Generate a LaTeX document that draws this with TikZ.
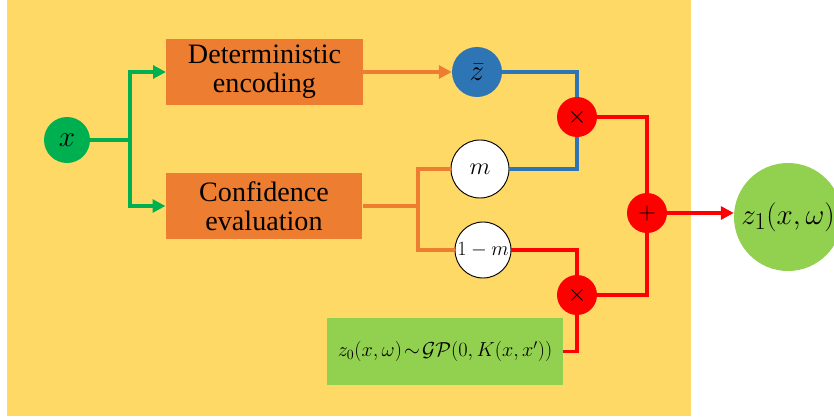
\documentclass[tikz,border=0pt]{standalone}
\usepackage{fontspec}
\setmainfont{Liberation Serif}
\usetikzlibrary{arrows.meta}

\definecolor{bgyellow}{HTML}{FFD966}
\definecolor{boxorange}{HTML}{ED7D31}
\definecolor{xgreen}{HTML}{00B050}
\definecolor{zblue}{HTML}{2E75B6}
\definecolor{opred}{HTML}{FF0000}
\definecolor{lgreen}{HTML}{92D050}

\tikzset{
  box/.style={fill=boxorange, minimum width=5.9cm, minimum height=1.98cm,
    inner sep=0pt, align=center, font=\fontsize{24}{25}\selectfont},
  op/.style={circle, fill=opred, minimum size=1.2cm, inner sep=0pt,
    font=\fontsize{20}{20}\selectfont},
  wire/.style={line width=3.4pt},
  tip/.style={-{Triangle[length=11pt,width=11pt]}}
}

\begin{document}
\begin{tikzpicture}[x=0.03cm,y=-0.03cm]
  \useasboundingbox (0,0) rectangle (834,419);
  \fill [color=bgyellow] (7,0) rectangle (691,416);

  % nodes
  \node [circle, fill=xgreen, minimum size=1.38cm, inner sep=0pt,
    font=\fontsize{26}{26}\selectfont] (x) at (67,140) {$x$};
  \node [box] (det) at (264.5,72) {Deterministic\\encoding};
  \node [box] (conf) at (264,206) {Confidence\\evaluation};
  \node [circle, fill=zblue, minimum size=1.5cm, inner sep=0pt,
    font=\fontsize{24}{24}\selectfont] (zbar) at (477,72) {$\bar{z}$};
  \node [circle, draw, fill=white, thick, minimum size=1.74cm, inner sep=0pt,
    font=\fontsize{22}{22}\selectfont] (m) at (480,169) {$m$};
  \node [circle, draw, fill=white, thick, minimum size=1.68cm, inner sep=0pt,
    font=\fontsize{18}{18}\selectfont] (omm) at (483,250) {$1-m$};
  \node [op] (mul1) at (577,117) {$\times$};
  \node [op] (mul2) at (577,295) {$\times$};
  \node [op] (add) at (647,213) {$+$};
  \node [circle, fill=lgreen, minimum size=3.24cm, inner sep=0pt,
    font=\fontsize{29}{29}\selectfont] (z1) at (788,217) {$z_1(x,\omega)$};
  \node [fill=lgreen, minimum width=7.08cm, minimum height=2.01cm, inner sep=0pt,
    font=\fontsize{18.5}{18.5}\selectfont] (gp) at (445,351.5)
    {$z_0(x,\omega)\!\sim\!\mathcal{G}\mathcal{P}(0,K(x,x'))$};

  % connectors
  \draw [wire, xgreen, tip] (x.east) -- (130,140) |- (det.west);
  \draw [wire, xgreen, tip] (130,140) |- (conf.west);
  \draw [wire, boxorange, tip] (det.east) -- (zbar.west);
  \draw [wire, boxorange] (conf.east) -- (418,206) |- (m.west);
  \draw [wire, boxorange] (418,206) |- (omm.west);
  \draw [wire, zblue] (zbar.east) -| (mul1.north);
  \draw [wire, zblue] (m.east) -| (mul1.south);
  \draw [wire, opred] (mul1.east) -| (add.north);
  \draw [wire, opred] (mul2.east) -| (add.south);
  \draw [wire, opred] (omm.east) -| (mul2.north);
  \draw [wire, opred] (gp.east) -| (mul2.south);
  \draw [wire, opred, tip] (add.east) -- (z1.west |- add.east);
\end{tikzpicture}
\end{document}
